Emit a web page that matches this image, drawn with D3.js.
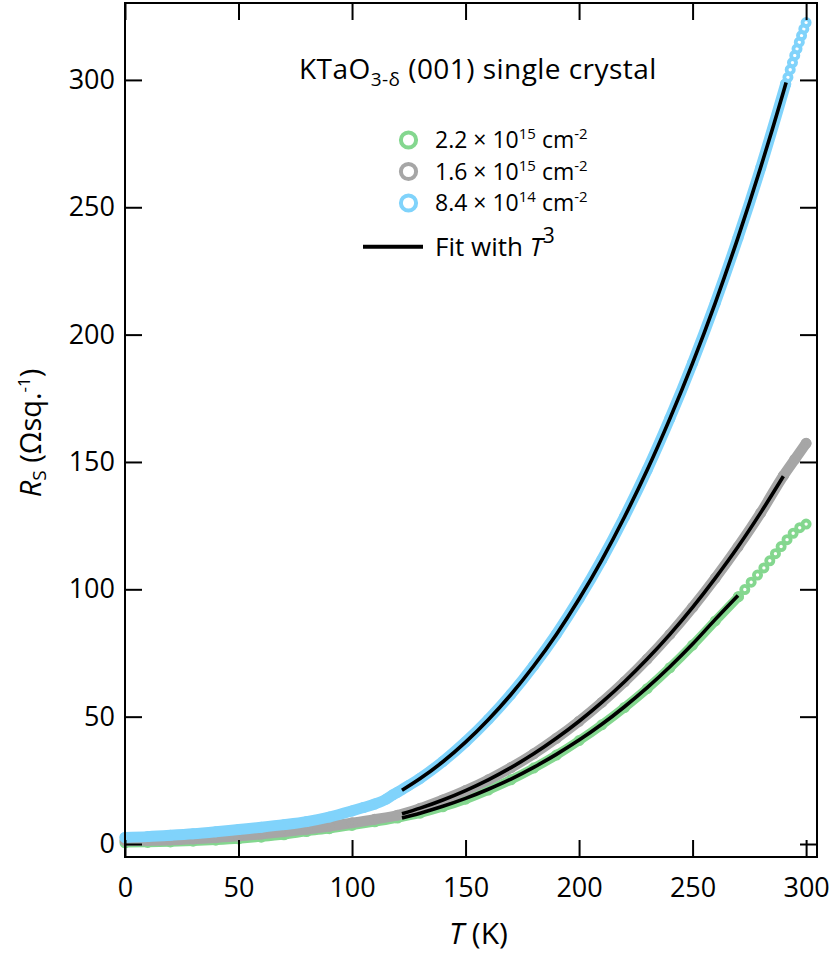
<!DOCTYPE html>
<html>
<head>
<meta charset="utf-8">
<script src="https://cdn.jsdelivr.net/npm/d3@7"></script>
<style>
  html, body { margin: 0; padding: 0; background: #fff; }
  svg { display: block; font-family: "Open Sans", sans-serif; }
</style>
</head>
<body>
<svg id="chart" width="834" height="960"></svg>
<script>
// Sheet resistance R_S (Ω/sq) versus temperature T (K) for KTaO3-δ (001) crystals

// 2.2 × 10^15 cm^-2 : dense sweep up to ~270 K, then sparse points
const greenT = [0, 10, 20, 30, 40, 50, 60, 70, 80, 90, 100, 110, 120, 130, 140, 150, 160, 170, 180, 190,
                200, 210, 220, 230, 240, 250, 260, 270.2];
const greenR = [0.5, 0.6, 0.8, 1.1, 1.5, 2.0, 2.7, 3.6, 4.9, 6.0, 7.3, 8.7, 10.2, 12.1, 14.6, 17.6, 21.2, 25.2, 29.8, 34.9,
                40.6, 46.8, 53.6, 61.0, 69.2, 78.1, 87.6, 97.1];
const greenTailT = [270.2, 273.0, 275.8, 278.6, 281.4, 284.0, 286.5, 289.0, 291.6, 294.3, 297.2, 300];
const greenTailR = [97.1, 99.9, 102.8, 105.6, 108.4, 111.2, 114.0, 116.8, 119.5, 122.0, 124.2, 125.6];

// 1.6 × 10^15 cm^-2 : dense sweep over the whole range
const grayT = [0, 10, 20, 30, 40, 50, 60, 70, 80, 90, 100, 110, 120, 130, 140, 150, 160, 170, 180, 190,
               200, 210, 220, 230, 240, 250, 260, 270, 280, 290, 295, 300];
const grayR = [1.3, 1.4, 1.6, 2.0, 2.5, 3.1, 3.9, 4.8, 5.8, 7.0, 8.3, 9.7, 11.3, 14.0, 17.3, 21.0, 25.2, 30.0, 35.4, 41.5,
               48.2, 55.6, 63.7, 72.6, 82.3, 92.9, 104.4, 116.7, 130.0, 144.6, 151.0, 157.3];

// 8.4 × 10^14 cm^-2 : dense sweep up to ~291 K, then sparse points
const blueT = [0, 10, 20, 30, 40, 50, 60, 70, 80, 90, 100, 105, 110, 115, 118, 120, 125, 130, 140, 150,
               160, 170, 180, 190, 200, 210, 220, 230, 240, 250, 260, 270, 280, 291];
const blueR = [2.6, 2.9, 3.4, 4.0, 4.8, 5.7, 6.6, 7.6, 8.8, 10.6, 13.0, 14.3, 15.7, 17.6, 19.3, 20.3, 23.0, 25.8, 32.4, 40.1,
               48.9, 58.8, 70.0, 82.4, 96.3, 111.6, 128.5, 146.9, 167.1, 188.9, 212.5, 238.0, 265.5, 298.4];
const blueTailT = [291, 292, 293, 294, 295, 296, 297, 298, 299, 300];
const blueTailR = [298.4, 301.0, 304.0, 306.8, 309.6, 312.2, 314.8, 317.4, 320.0, 322.5];

// T^3 fit curves
const fitBlueT  = [122, 130, 140, 150, 160, 170, 180, 190, 200, 210, 220, 230, 240, 250, 260, 270, 280, 290, 291.2];
const fitBlueR  = [21.1, 25.7, 32.3, 40.0, 48.8, 58.7, 69.9, 82.3, 96.2, 111.5, 128.4, 146.8, 167.0, 188.8, 212.5, 238.1, 265.7, 295.3, 299.0];
const fitGrayT  = [122, 130, 140, 150, 160, 170, 180, 190, 200, 210, 220, 230, 240, 250, 260, 270, 280, 290];
const fitGrayR  = [11.9, 14.1, 17.3, 21.0, 25.2, 30.0, 35.4, 41.5, 48.2, 55.6, 63.7, 72.6, 82.3, 92.9, 104.4, 116.7, 130.1, 144.4];
const fitGreenT = [122, 130, 140, 150, 160, 170, 180, 190, 200, 210, 220, 230, 240, 250, 260, 270];
const fitGreenR = [10.2, 12.1, 14.8, 17.9, 21.5, 25.5, 30.1, 35.2, 40.8, 47.0, 53.9, 61.4, 69.6, 78.5, 88.2, 97.6];

const xTicks = [0, 50, 100, 150, 200, 250, 300];
const yTicks = [0, 50, 100, 150, 200, 250, 300];

const legendLabels = [
  { mant: "2.2", exp: "15" },
  { mant: "1.6", exp: "15" },
  { mant: "8.4", exp: "14" }
];

const colGreen = "#84d78f";
const colGray  = "#a6a6a6";
const colBlue  = "#80d3fb";

// ---- layout ----
const svg = d3.select("#chart");
const plot = { left: 125, right: 817, top: 3, bottom: 857 };

const x = d3.scaleLinear().domain([0, 304.8]).range([plot.left, plot.right]);
const y = d3.scaleLinear().domain([-5.1, 330.2]).range([plot.bottom, plot.top]);

const zip = (a, b) => a.map((v, i) => [v, b[i]]);
const line = d3.line().x(d => x(d[0])).y(d => y(d[1])).curve(d3.curveMonotoneX);

// ---- data series: dense sweeps render as a continuous band of markers ----
function drawSeries(T, R, tailT, tailR, color, bandWidth) {
  const g = svg.append("g");
  g.append("path")
    .attr("d", line(zip(T, R)))
    .attr("fill", "none")
    .attr("stroke", color)
    .attr("stroke-width", bandWidth)
    .attr("stroke-linecap", "round")
    .attr("stroke-linejoin", "round");
  g.selectAll("circle.pt")
    .data(zip(T, R).concat(tailT ? zip(tailT, tailR) : []))
    .join("circle")
    .attr("class", "pt")
    .attr("cx", d => x(d[0]))
    .attr("cy", d => y(d[1]))
    .attr("r", 3.6)
    .attr("fill", "none")
    .attr("stroke", color)
    .attr("stroke-width", 3.8);
}

drawSeries(greenT, greenR, greenTailT, greenTailR, colGreen, 9.5);
drawSeries(grayT, grayR, null, null, colGray, 10.5);
drawSeries(blueT, blueR, blueTailT, blueTailR, colBlue, 11);

// ---- fits ----
[[fitBlueT, fitBlueR], [fitGrayT, fitGrayR], [fitGreenT, fitGreenR]].forEach(([T, R]) => {
  svg.append("path")
    .attr("d", line(zip(T, R)))
    .attr("fill", "none")
    .attr("stroke", "#000")
    .attr("stroke-width", 3.6);
});

// ---- axes (ticks inward on all four sides) ----
const tickLen = 17;
const fontSize = 27;

function styleAxis(g) {
  g.select(".domain").remove();
  g.selectAll(".tick line").attr("stroke", "#000").attr("stroke-width", 2);
  g.selectAll(".tick text")
    .attr("fill", "#000")
    .attr("font-family", "'Open Sans', sans-serif")
    .attr("font-size", fontSize);
}

svg.append("g")
  .attr("transform", `translate(0,${plot.bottom})`)
  .call(d3.axisBottom(x).tickValues(xTicks).tickSizeInner(-tickLen).tickSizeOuter(0).tickPadding(21))
  .call(styleAxis);

svg.append("g")
  .attr("transform", `translate(0,${plot.top})`)
  .call(d3.axisTop(x).tickValues(xTicks).tickSizeInner(-tickLen).tickSizeOuter(0).tickFormat(() => ""))
  .call(styleAxis);

svg.append("g")
  .attr("transform", `translate(${plot.left},0)`)
  .call(d3.axisLeft(y).tickValues(yTicks).tickSizeInner(-tickLen).tickSizeOuter(0).tickPadding(10))
  .call(styleAxis);

svg.append("g")
  .attr("transform", `translate(${plot.right},0)`)
  .call(d3.axisRight(y).tickValues(yTicks).tickSizeInner(-tickLen).tickSizeOuter(0).tickFormat(() => ""))
  .call(styleAxis);

svg.append("rect")
  .attr("x", plot.left).attr("y", plot.top)
  .attr("width", plot.right - plot.left).attr("height", plot.bottom - plot.top)
  .attr("fill", "none").attr("stroke", "#000").attr("stroke-width", 2);

// ---- axis titles ----
const xl = svg.append("text")
  .attr("x", 449).attr("y", 944)
  .attr("font-size", 30).attr("fill", "#000");
xl.append("tspan").attr("font-style", "italic").text("T");
xl.append("tspan").text(" (K)");

const yl = svg.append("text")
  .attr("transform", "translate(41,433) rotate(-90)")
  .attr("text-anchor", "middle")
  .attr("font-size", 29).attr("fill", "#000");
yl.append("tspan").attr("font-style", "italic").text("R");
yl.append("tspan").attr("font-size", 19).attr("dy", 5).text("S");
yl.append("tspan").attr("dy", -5).text(" (Ωsq.");
yl.append("tspan").attr("font-size", 17).attr("dy", -11).text("-1");
yl.append("tspan").attr("dy", 11).text(")");

// ---- title ----
const title = svg.append("text")
  .attr("x", 299).attr("y", 79)
  .attr("font-size", 28).attr("letter-spacing", 0.45).attr("fill", "#000");
title.append("tspan").text("KTaO");
title.append("tspan").attr("font-size", 19).attr("dy", 7).text("3-δ");
title.append("tspan").attr("dy", -7).text(" (001) single crystal");

// ---- legend ----
const legColors = [colGreen, colGray, colBlue];
const legY = [140, 171.5, 203];
legendLabels.forEach((d, i) => {
  svg.append("circle")
    .attr("cx", 408.5).attr("cy", legY[i]).attr("r", 7.6)
    .attr("fill", "none").attr("stroke", legColors[i]).attr("stroke-width", 4);
  const t = svg.append("text")
    .attr("x", 435).attr("y", legY[i] + 8.3)
    .attr("font-size", 23).attr("fill", "#000");
  t.append("tspan").text(`${d.mant} × 10`);
  t.append("tspan").attr("font-size", 15).attr("dy", -9).text(d.exp);
  t.append("tspan").attr("dy", 9).text(" cm");
  t.append("tspan").attr("font-size", 15).attr("dy", -9).text("-2");
});

svg.append("line")
  .attr("x1", 363).attr("x2", 423).attr("y1", 246.7).attr("y2", 246.7)
  .attr("stroke", "#000").attr("stroke-width", 4);
const fitLab = svg.append("text")
  .attr("x", 435).attr("y", 256)
  .attr("font-size", 26).attr("fill", "#000");
fitLab.append("tspan").text("Fit with ");
fitLab.append("tspan").attr("font-style", "italic").text("T");
fitLab.append("tspan").attr("font-size", 21).attr("dy", -13).text("3");
</script>
</body>
</html>
